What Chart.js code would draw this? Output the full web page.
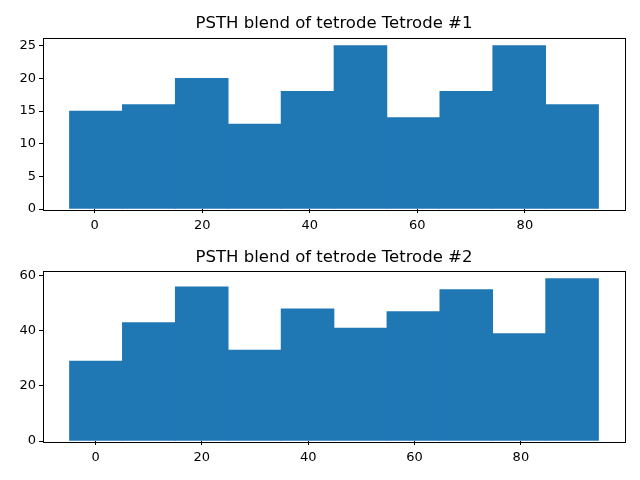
<!DOCTYPE html>
<html>
<head>
<meta charset="utf-8">
<script src="https://cdn.jsdelivr.net/npm/chart.js@4"></script>
<style>
  body { margin: 0; background: #fff; }
  .box { position: absolute; left: 0; width: 640px; height: 240px; }
</style>
</head>
<body>
<div class="box" style="top:0"><canvas id="top"></canvas></div>
<div class="box" style="top:240px"><canvas id="bottom"></canvas></div>
<script>
// histogram data
var edges1 = [-4.7, 5.14, 14.98, 24.82, 34.66, 44.5, 54.34, 64.18, 74.02, 83.86, 93.7];
var counts1 = [15, 16, 20, 13, 18, 25, 14, 18, 25, 16];
var edges2 = [-4.9, 5.05, 15.0, 24.95, 34.9, 44.85, 54.8, 64.75, 74.7, 84.65, 94.6];
var counts2 = [29, 43, 56, 33, 48, 41, 47, 55, 39, 59];
var xTicks = [0, 20, 40, 60, 80];
var yTicks1 = [0, 5, 10, 15, 20, 25];
var yTicks2 = [0, 20, 40, 60];

Chart.defaults.font.family = 'DejaVu Sans';
Chart.defaults.color = '#000';
Chart.defaults.animation = false;

// draws the black box around the axes like matplotlib
// and centres the title over the axes instead of the canvas
var frame = {
    id: 'frame',
    afterLayout: function(chart) {
        var t = chart.titleBlock, a = chart.chartArea;
        if (t) { t.left = a.left; t.right = a.right; t.width = a.right - a.left; }
    },
    afterDraw: function(chart) {
        var a = chart.chartArea, c = chart.ctx;
        c.save();
        c.strokeStyle = '#000';
        c.lineWidth = 1;
        c.strokeRect(Math.round(a.left) + 0.5, Math.round(a.top) + 0.5,
                     Math.round(a.right - a.left), Math.round(a.bottom - a.top));
        c.restore();
    }
};

function makeHist(id, title, edges, counts, xmin, xmax, ymax, yTicks, pad, xHeight) {
    var pts = [];
    for (var i = 0; i < counts.length; i++) {
        pts.push({ x: (edges[i] + edges[i + 1]) / 2, y: counts[i] });
    }
    var tickOpts = function(list) {
        return function(s) { s.ticks = list.map(function(v) { return { value: v }; }); };
    };
    return new Chart(document.getElementById(id), {
        type: 'bar',
        data: {
            datasets: [{
                data: pts,
                backgroundColor: '#1f77b4',
                borderWidth: 0,
                barPercentage: 1,
                categoryPercentage: 1
            }]
        },
        options: {
            responsive: true,
            maintainAspectRatio: false,
            layout: { padding: { left: 0, right: 15, top: 0, bottom: 0 } },
            plugins: {
                legend: { display: false },
                tooltip: { enabled: false },
                title: {
                    display: true,
                    text: title,
                    font: { size: 16.5, weight: 'normal' },
                    padding: pad
                }
            },
            scales: {
                x: {
                    type: 'linear',
                    offset: false,
                    min: xmin, max: xmax,
                    afterBuildTicks: tickOpts(xTicks),
                    afterFit: function(s) { s.height = xHeight; },
                    grid: { offset: false, drawOnChartArea: false, color: '#000', tickLength: 4 },
                    border: { display: false },
                    ticks: { font: { size: 13 }, padding: 5, maxRotation: 0 }
                },
                y: {
                    min: 0, max: ymax,
                    afterBuildTicks: tickOpts(yTicks),
                    afterFit: function(s) { s.width = 43; },
                    grid: { drawOnChartArea: false, color: '#000', tickLength: 4 },
                    border: { display: false },
                    ticks: { font: { size: 13 }, padding: 3 }
                }
            }
        },
        plugins: [frame]
    });
}

makeHist('top', 'PSTH blend of tetrode Tetrode #1', edges1, counts1,
         -9.62, 98.62, 26.25, yTicks1, { top: 14, bottom: 3.7 }, 31);
makeHist('bottom', 'PSTH blend of tetrode Tetrode #2', edges2, counts2,
         -9.88, 99.58, 61.95, yTicks2, { top: 8, bottom: 2.7 }, 39);
</script>
</body>
</html>
